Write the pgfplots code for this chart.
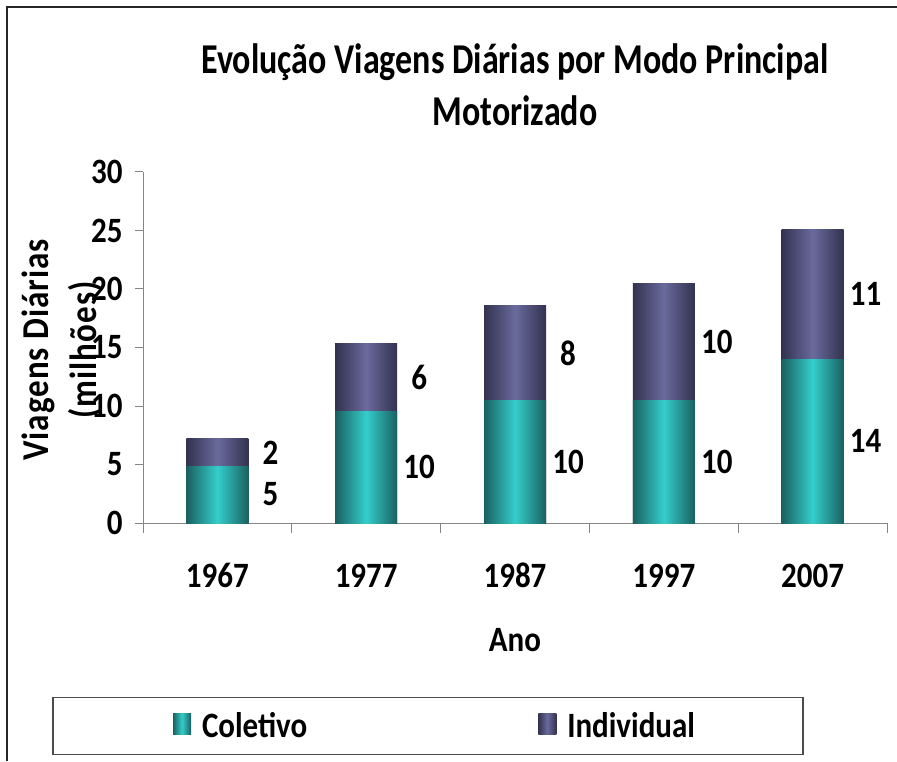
\documentclass[border=0pt]{standalone}
\usepackage{fontspec}
\setmainfont{Carlito}
\usepackage{graphicx}
\usepackage{pgfplots}
\usepackage{pgfplotstable}
\pgfplotsset{compat=1.18}

\definecolor{tealC}{RGB}{52,206,204}
\definecolor{tealD}{RGB}{26,96,96}
\definecolor{indC}{RGB}{106,106,158}
\definecolor{indD}{RGB}{50,50,80}
\definecolor{axgray}{RGB}{134,134,134}

\pgfplotstableread{
x c i
0 4.87 2.31
1 9.57 5.81
2 10.43 8.20
3 10.43 10.07
4 14.00 11.10
}\datatab

\newcommand\bigf{\fontsize{31}{37}\selectfont\bfseries}
\newcommand\tl[1]{\scalebox{1}[1.15]{#1}}

\begin{document}
\begin{tikzpicture}
\path[use as bounding box] (0pt,0pt) rectangle (897pt,761pt);
\draw[line width=2pt, black!85] (7pt,0pt) -- (7pt,754pt) -- (897pt,754pt);
\begin{axis}[
  at={(143pt,238pt)}, anchor=south west,
  scale only axis, width=744pt, height=351pt,
  ybar, bar width=62pt, bar shift=0pt,
  xmin=-0.5, xmax=4.5, ymin=0, ymax=30,
  axis lines=left, axis line style={-, draw=axgray, line width=1pt},
  ytick={0,5,...,30},
  yticklabel={\tl{\pgfmathprintnumber{\tick}}},
  xtick={0,1,2,3,4},
  xticklabels={\tl{1967},\tl{1977},\tl{1987},\tl{1997},\tl{2007}},
  minor xtick={-0.5,0.5,1.5,2.5,3.5,4.5},
  tick align=outside,
  major tick length=8pt, minor tick length=10pt,
  major x tick style={draw=none},
  tick style={draw=axgray, line width=1pt},
  minor x tick style={draw=axgray, line width=1pt},
  /pgf/number format/assume math mode=true,
  tick label style={font=\bigf},
  yticklabel style={xshift=-9pt},
  xticklabel style={anchor=base, yshift=-56pt},
  title={\scalebox{1}[1.25]{Evolução Viagens Diárias por Modo Principal}\\\scalebox{1}[1.25]{Motorizado}},
  title style={at={(axis description cs:0.5,1.232)}, anchor=center, align=center, font=\fontsize{34}{52}\selectfont\bfseries},
  ylabel={\tl{Viagens Diárias}\\\tl{(milhões)}},
  ylabel style={at={(axis description cs:-0.109,0.493)}, anchor=center, align=center, font=\fontsize{33}{48}\selectfont\bfseries\addfontfeatures{LetterSpace=3}},
  xlabel={\tl{Ano}},
  xlabel style={at={(axis description cs:0.5,-0.333)}, anchor=center, font=\bigf},
  legend columns=2,
  legend style={at={(axis description cs:0.383,-0.578)}, anchor=center, draw=black!70, line width=1.3pt, inner xsep=106pt, inner ysep=13pt, font=\bigf,
     /tikz/every odd column/.append style={column sep=9pt},
     /tikz/every even column/.append style={column sep=229pt}},
  legend image code/.code={\path[#1] (0pt,-9pt) rectangle (18pt,12pt);},
  nodes near coords={\tl{\pgfmathprintnumber[fixed,precision=0]{\pgfplotspointmeta}}},
  point meta=explicit,
  nodes near coords align={anchor=center},
  every node near coord/.append style={font=\bigf, anchor=center, xshift=53pt, yshift={-5.85pt*\segh}},
]
\addlegendimage{legend image code/.code={\path (-14pt,0pt); \path[##1] (0pt,-9pt) rectangle (18pt,12pt);}, draw=none, left color=tealD, right color=tealD, middle color=tealC}
\addlegendentry{\tl{Coletivo}}
\addlegendimage{draw=none, left color=indD, right color=indD, middle color=indC}
\addlegendentry{\tl{Individual}}
\pgfplotsinvokeforeach{0,1,2,3,4}{
\addplot[forget plot, draw=none, left color=indD, right color=indD, middle color=indC,
  x filter/.expression={abs(x-#1)<0.1 ? x : nan},
  visualization depends on={\thisrow{i} \as \segh}]
  table[x=x, y expr=\thisrow{c}+\thisrow{i}, meta=i] {\datatab};
\addplot[forget plot, draw=none, left color=tealD, right color=tealD, middle color=tealC,
  x filter/.expression={abs(x-#1)<0.1 ? x : nan},
  visualization depends on={\thisrow{c} \as \segh}]
  table[x=x, y=c, meta=c] {\datatab};
}
\end{axis}
\end{tikzpicture}
\end{document}
